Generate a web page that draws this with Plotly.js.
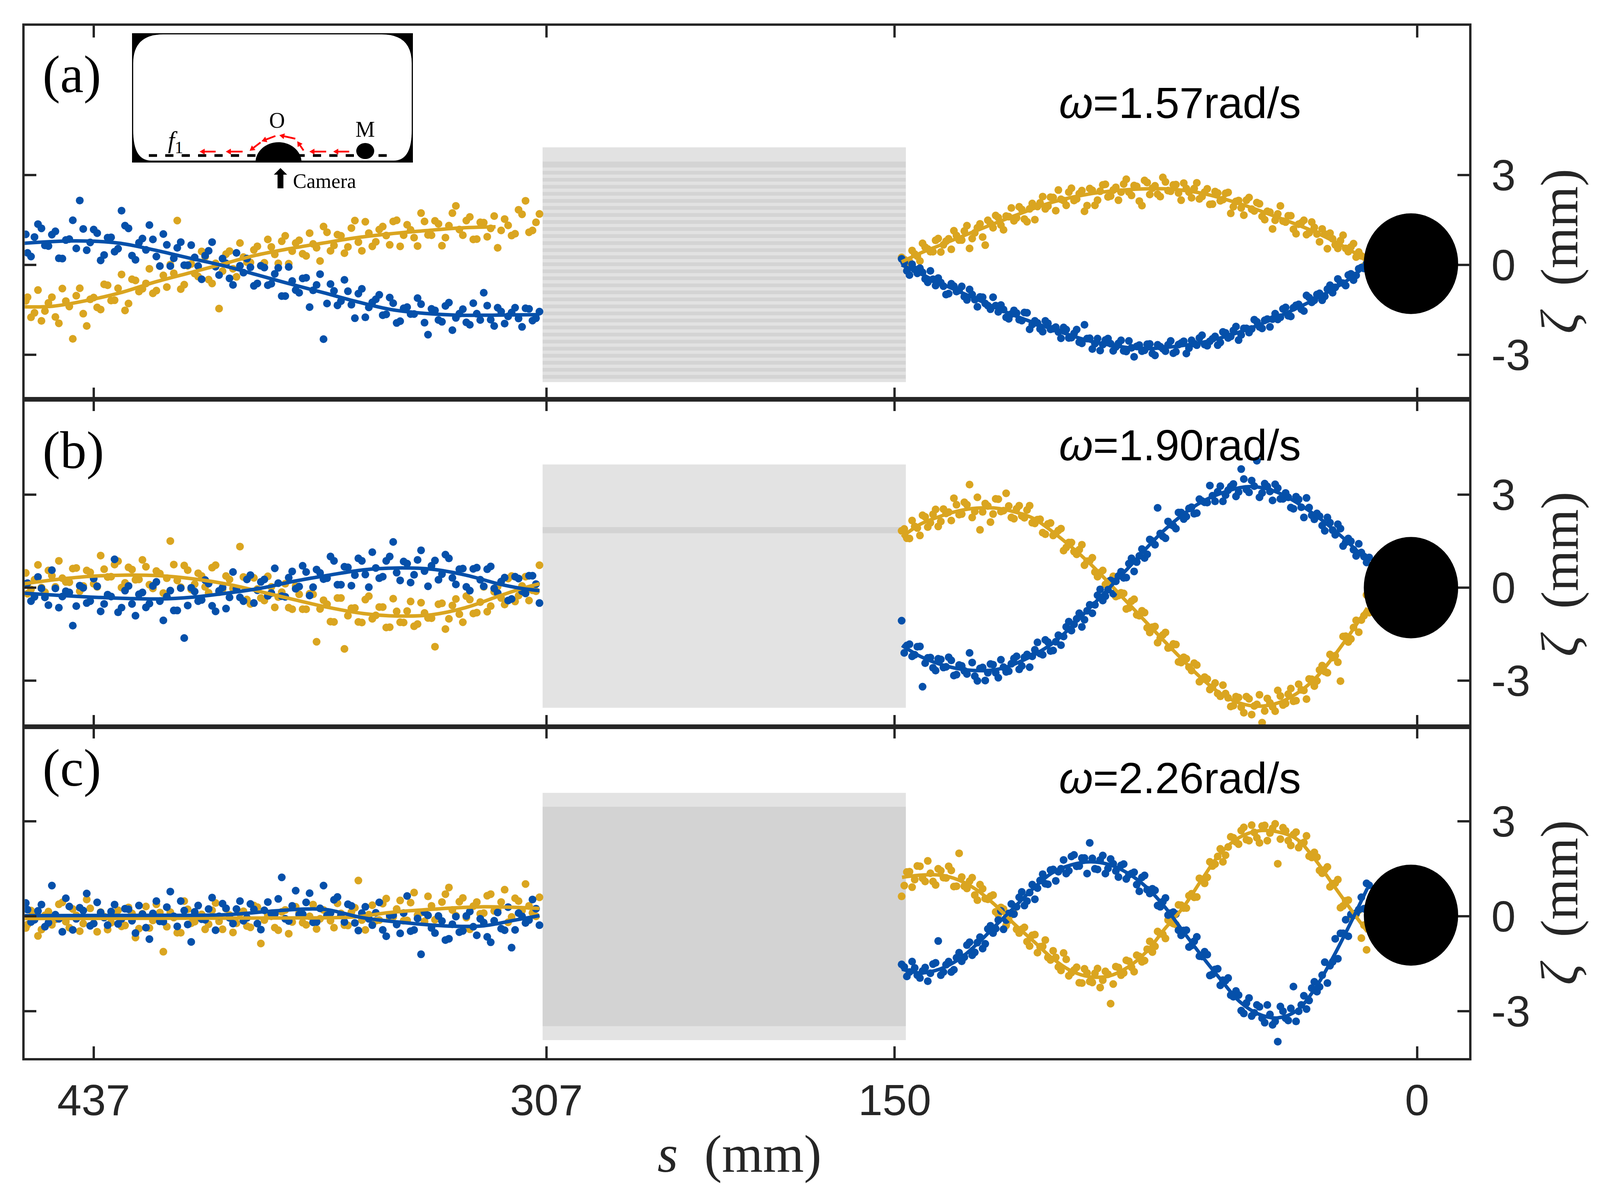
<!DOCTYPE html>
<html><head><meta charset="utf-8">
<script src="https://cdn.plot.ly/plotly-3.0.1.min.js"></script>
<style>html,body{margin:0;padding:0;background:#fff}#chart{width:4138px;height:3061px}</style>
</head><body><div id="chart"></div>
<script>
// ---------------- DATA ----------------
const X_TICK_S = [437, 307, 150, 0];
const X_TICK_TEXT = ['437', '307', '150', '0'];
const Y_TICKS = [-3, 0, 3];
const Y_TICK_TEXT = ['-3', '0', '3'];
const PANEL_LABELS = ['(a)', '(b)', '(c)'];
const OMEGA_TEXT = ['1.57', '1.90', '2.26'];

// sampling positions s (mm) of the measured points
const S_LEFT = [456.5,455,453,451,449,447,445,443,441,439,437,435,433,431,429,427,425,423,421,419,417,415,413,411,409,407,405,403,401,399,397,395,393,391,389,387,385,383,381,379,377,375,373,371,369,367,365,363,361,359,357,355,353,351,349,347,345,343,341,339,337,335,333,331,329,327,325,323,321,319,317,315,313,311,309];
const S_RIGHT = [148,146.5,145,143.5,142,140.5,139,137.5,136,134.5,133,131.5,130,128.5,127,125.5,124,122.5,121,119.5,118,116.5,115,113.5,112,110.5,109,107.5,106,104.5,103,101.5,100,98.5,97,95.5,94,92.5,91,89.5,88,86.5,85,83.5,82,80.5,79,77.5,76,74.5,73,71.5,70,68.5,67,65.5,64,62.5,61,59.5,58,56.5,55,53.5,52,50.5,49,47.5,46,44.5,43,41.5,40,38.5,37,35.5,34,32.5,31,29.5,28,26.5,25,23.5,22,20.5,19,17.5,16,14.5];
const S_LEFT2 = [456,454,452,450,448,446,444,442,440,438,436,434,432,430,428,426,424,422,420,418,416,414,412,410,408,406,404,402,400,398,396,394,392,390,388,386,384,382,380,378,376,374,372,370,368,366,364,362,360,358,356,354,352,350,348,346,344,342,340,338,336,334,332,330,328,326,324,322,320,318,316,314,312,310];
const S_RIGHT2 = [147.25,145.75,144.25,142.75,141.25,139.75,138.25,136.75,135.25,133.75,132.25,130.75,129.25,127.75,126.25,124.75,123.25,121.75,120.25,118.75,117.25,115.75,114.25,112.75,111.25,109.75,108.25,106.75,105.25,103.75,102.25,100.75,99.25,97.75,96.25,94.75,93.25,91.75,90.25,88.75,87.25,85.75,84.25,82.75,81.25,79.75,78.25,76.75,75.25,73.75,72.25,70.75,69.25,67.75,66.25,64.75,63.25,61.75,60.25,58.75,57.25,55.75,54.25,52.75,51.25,49.75,48.25,46.75,45.25,43.75,42.25,40.75,39.25,37.75,36.25,34.75,33.25,31.75,30.25,28.75,27.25,25.75,24.25,22.75,21.25,19.75,18.25,16.75,15.25,13.75];

// panel (a) omega = 1.57 rad/s
const A_L_BLUE = [1.02,0.28,1.36,0.65,1.01,0.22,0.83,1.49,2.15,0.49,1.18,0.15,0.91,0.44,1.81,1.22,0.17,0.88,1.33,0.28,1.03,-0.04,0.57,-0.01,0.66,-0.04,0.31,0.76,-0.34,0.05,-0.67,-0.03,0.21,-0.70,-0.03,-0.68,-0.30,-1.04,-0.07,-0.84,-0.45,-1.41,-0.67,-2.48,-0.64,-1.35,-0.50,-1.33,-0.96,-1.75,-1.25,-1.00,-1.65,-1.28,-1.88,-1.41,-1.64,-1.31,-2.33,-1.52,-1.90,-1.26,-1.77,-1.48,-2.00,-1.63,-0.93,-1.83,-1.43,-1.96,-1.59,-1.79,-1.45,-1.86,-1.56];
const A_L_GOLD = [-1.20,-1.75,-0.84,-1.54,-1.08,-1.95,-1.21,-2.47,-0.78,-2.04,-1.09,-1.49,-0.68,-1.18,-0.32,-1.29,-0.52,-0.80,-0.13,-0.86,-0.35,0.01,1.48,-0.66,0.03,-0.39,0.27,-0.62,-1.46,0.36,-0.13,0.73,0.09,0.50,-0.03,0.85,0.35,0.79,0.04,0.73,0.37,1.06,0.57,1.28,0.47,1.01,0.39,1.23,0.76,1.44,0.62,1.18,0.98,1.45,0.62,1.34,0.91,1.73,1.00,1.47,0.64,1.31,1.97,0.99,1.60,0.86,1.41,1.22,0.57,1.53,0.98,1.84,2.14,1.15,1.70];
const A_R_BLUE = [0.20,-0.20,0.02,-0.28,-0.25,-0.58,-0.48,-0.44,-0.71,-0.96,-0.71,-0.85,-1.06,-0.82,-1.16,-1.07,-1.29,-1.48,-1.36,-1.34,-1.75,-1.64,-1.61,-1.86,-1.60,-1.99,-1.94,-2.23,-1.95,-2.13,-2.24,-2.09,-2.44,-2.29,-2.58,-2.00,-2.45,-2.63,-2.86,-2.51,-2.63,-2.74,-2.52,-2.89,-2.77,-2.72,-2.88,-2.65,-2.96,-2.67,-2.80,-2.67,-2.95,-2.66,-2.55,-2.78,-2.63,-2.44,-2.66,-2.55,-2.39,-2.59,-2.27,-2.39,-2.06,-2.34,-2.12,-2.14,-1.90,-2.12,-1.81,-1.81,-1.82,-1.47,-1.70,-1.43,-1.32,-1.54,-1.09,-1.18,-0.95,-1.05,-0.68,-0.75,-0.59,-0.69,-0.30,-0.35,-0.09,0.05];
const A_R_GOLD = [0.25,0.08,0.48,0.29,0.72,0.53,0.44,0.88,0.67,0.87,1.14,0.83,1.13,0.55,1.07,1.37,0.66,1.38,1.65,1.33,1.63,1.90,1.57,1.85,1.44,2.05,1.95,2.28,1.96,2.25,2.50,2.15,2.43,2.15,2.38,1.79,2.55,1.99,2.46,2.69,2.30,2.59,2.43,2.86,2.32,2.62,1.98,2.75,2.56,2.36,2.92,2.48,2.67,2.40,2.73,2.43,2.55,2.20,2.43,2.02,2.45,2.14,2.39,1.72,2.12,1.90,2.16,1.86,2.08,1.62,1.79,1.20,1.70,1.46,1.64,1.19,1.36,1.49,1.07,1.25,0.77,1.03,1.06,0.67,0.81,0.55,0.60,0.26,0.30,0.05];
const A_L_BLUE2 = [0.40,0.93,1.22,0.63,1.12,0.21,0.86,0.55,1.20,0.75,1.06,0.33,0.92,0.54,1.31,0.31,0.74,0.50,0.85,-0.04,0.67,0.22,0.76,-0.01,0.25,-0.48,0.47,-0.06,0.21,-0.45,0.40,-0.26,-0.08,-0.62,-0.09,-0.63,-0.10,-1.04,-0.54,-0.93,-0.43,-0.85,-0.31,-1.29,-0.87,-1.21,-0.88,-1.78,-0.80,-1.42,-1.15,-1.68,-1.09,-1.94,-1.45,-1.64,-1.11,-1.93,-1.47,-1.84,-1.37,-2.18,-1.63,-1.92,-1.28,-1.84,-1.36,-2.04,-1.56,-1.72,-1.43,-2.07,-1.47,-1.78];
const A_L_GOLD2 = [-1.08,-1.60,-1.87,-1.27,-1.74,-0.79,-1.39,-1.03,-1.63,-1.15,-1.42,-0.65,-1.19,-0.78,-1.52,-0.48,-0.89,-0.62,-0.95,-0.04,-0.74,-0.28,-0.81,-0.03,-0.29,0.45,-0.49,0.05,-0.21,0.46,-0.40,0.26,0.08,0.62,0.07,0.60,0.05,0.97,0.46,0.82,0.30,0.70,0.13,1.09,0.65,0.97,0.60,1.48,0.47,1.06,0.77,1.28,0.67,1.49,0.99,1.17,0.63,1.45,0.99,1.37,0.91,1.73,1.18,1.48,0.85,1.42,0.94,1.63,1.15,1.32,1.04,1.69,1.09,1.42];
const A_R_BLUE2 = [0.08,-0.34,-0.15,-0.11,-0.47,-0.20,-0.69,-0.59,-0.99,-0.63,-0.89,-0.72,-1.17,-0.99,-1.40,-1.08,-1.36,-1.08,-1.57,-1.49,-1.80,-1.52,-1.83,-1.59,-2.15,-1.87,-2.14,-1.87,-2.15,-2.08,-2.45,-2.16,-2.43,-2.16,-2.62,-2.46,-2.81,-2.46,-2.66,-2.46,-2.87,-2.62,-2.87,-2.54,-3.07,-2.68,-2.85,-2.64,-3.02,-2.73,-2.88,-2.54,-2.90,-2.61,-2.96,-2.52,-2.68,-2.35,-2.70,-2.47,-2.68,-2.24,-2.44,-2.19,-2.51,-2.12,-2.26,-1.83,-2.07,-1.85,-2.07,-1.63,-1.75,-1.42,-1.72,-1.35,-1.48,-1.02,-1.25,-0.99,-1.18,-0.81,-0.93,-0.47,-0.61,-0.34,-0.51,-0.13,-0.12,0.11];
const A_R_GOLD2 = [0.18,0.11,0.36,0.13,0.59,0.44,0.82,0.43,0.79,0.52,0.98,0.83,1.31,0.88,1.24,0.93,1.49,1.24,1.58,1.17,1.61,1.47,1.94,1.53,1.87,1.51,2.07,1.87,2.26,1.81,2.19,1.99,2.56,2.20,2.48,1.98,2.49,2.16,2.67,2.27,2.50,2.16,2.70,2.43,2.65,2.13,2.82,2.35,2.64,2.28,2.77,2.46,2.68,2.16,2.55,2.24,2.74,2.28,2.54,2.03,2.40,2.18,2.42,1.94,2.15,1.66,2.25,1.80,2.04,1.51,1.76,1.49,1.97,1.43,1.64,1.04,1.40,1.01,1.43,1.03,1.20,0.54,0.87,0.55,0.99,0.44,0.71,0.43,-0.04,0.29];
const A_L_BLUE_FIT_S = [458.4,442,430,419.7,410,400,390.5,380.8,371,361.4,351.7,342,332.3,322.7,309];
const A_L_BLUE_FIT = [0.71,0.80,0.73,0.50,0.24,-0.02,-0.32,-0.63,-0.93,-1.23,-1.49,-1.62,-1.68,-1.68,-1.66];
const A_L_GOLD_FIT_S = [457,448.7,439,429.3,419.6,409.9,400.2,390.5,380.8,371.1,361.4,351.7,342,332.3,321.6];
const A_L_GOLD_FIT = [-1.40,-1.38,-1.19,-0.93,-0.58,-0.28,0.02,0.32,0.54,0.73,0.91,1.04,1.14,1.23,1.27];
const A_R_BLUE_FIT_S = [148,142.5,137.1,126.4,115.6,104.8,94,83.2,78,72.4,61.7,50.9,40.1,29.4,18.6,14.3];
const A_R_BLUE_FIT = [0,-0.30,-0.60,-1.15,-1.69,-2.14,-2.54,-2.76,-2.80,-2.76,-2.59,-2.24,-1.74,-1.15,-0.40,0.05];
const A_R_GOLD_FIT_S = [148,142.5,137.1,126.4,115.6,104.8,94,83.2,72.4,61.7,50.9,40.1,29.4,18.6,14.8];
const A_R_GOLD_FIT = [0.10,0.40,0.65,1.15,1.64,2.09,2.37,2.51,2.54,2.39,2.04,1.59,1.10,0.45,0.15];

// panel (b) omega = 1.90 rad/s
const B_L_BLUE = [0.12,-0.44,0.34,-0.32,0.56,-0.65,-0.12,-1.23,0.06,-0.50,0.29,-0.77,-0.23,0.91,-0.65,0.05,-0.91,-0.16,-0.52,0.18,-1.06,-0.10,-0.74,-1.63,-0.01,-0.44,0.24,-0.59,-0.11,-0.68,0.50,-0.32,0.26,-0.50,0.18,-0.27,0.62,-0.28,0.32,-0.04,0.70,-0.26,0.58,0.27,1.00,0.09,0.67,0.06,0.94,0.42,1.14,0.30,0.86,1.47,0.23,0.77,0.41,1.20,0.04,0.87,0.43,0.94,0.10,0.61,-0.10,0.64,0.04,0.68,-0.18,0.32,-0.37,0.29,-0.19,0.38,-0.50];
const B_L_GOLD = [0.47,-0.06,0.73,-0.15,0.38,0.86,0.18,0.61,-0.12,0.55,0.12,1.03,0.34,0.74,0.00,0.65,0.25,0.89,0.09,0.53,-0.18,1.50,0.23,0.71,-0.06,0.46,0.02,0.64,-0.15,0.37,-0.03,1.32,-0.39,0.31,-0.34,0.36,-0.64,-0.15,-0.65,0.05,-0.70,-0.20,-1.75,-0.41,-1.10,-0.34,-1.98,-0.67,-1.11,-0.39,-1.01,-0.63,-1.29,-0.36,-1.12,-0.76,-1.25,-0.49,-0.98,-1.91,-0.51,-1.01,-0.37,-1.12,-0.39,-0.81,0.02,-0.60,0.03,-0.55,0.37,-0.26,0.35,-0.09,0.72];
const B_R_BLUE = [-1.07,-1.87,-2.22,-1.91,-3.20,-2.27,-2.59,-2.30,-2.58,-2.25,-2.84,-2.50,-2.69,-2.11,-2.86,-2.61,-3.00,-2.47,-2.75,-2.33,-2.72,-2.46,-2.22,-2.53,-2.16,-2.22,-1.77,-2.17,-1.76,-2.03,-1.54,-1.58,-1.10,-1.19,-0.83,-1.04,-0.56,-0.56,-0.06,-0.28,0.23,0.20,0.51,0.32,0.94,0.82,1.24,1.07,1.50,2.57,1.65,2.13,1.99,2.42,2.21,2.55,2.38,2.85,2.75,3.29,2.78,3.27,2.98,3.26,2.94,3.82,3.16,3.45,4.09,3.05,3.26,2.81,3.21,2.86,2.91,2.54,2.84,2.26,2.58,2.20,2.30,1.83,2.09,1.70,1.90,1.46,1.49,1.02,1.13,0.81];
const B_R_GOLD = [1.83,1.59,2.16,1.92,2.33,1.95,2.36,1.97,2.53,2.43,2.88,2.35,2.75,3.32,2.45,1.86,2.71,2.11,2.86,2.45,3.04,2.26,2.54,2.31,2.50,2.09,2.19,1.77,2.05,1.68,1.84,1.19,1.45,1.16,1.22,0.72,0.86,0.50,0.48,0.10,0.20,-0.29,-0.17,-0.69,-0.44,-0.88,-0.75,-1.30,-1.28,-1.78,-1.53,-1.95,-1.82,-2.40,-2.25,-2.57,-2.44,-3.04,-2.89,-3.29,-3.08,-3.51,-3.42,-3.84,-3.52,-3.86,-3.52,-4.10,-3.77,-4.36,-3.58,-3.85,-3.32,-3.79,-3.44,-3.67,-3.12,-3.32,-2.95,-3.18,-2.66,-2.71,-2.16,-2.20,-3.02,-1.57,-1.66,-1.06,-1.05,-0.24];
const B_L_BLUE2 = [0.14,-0.30,-0.03,-0.57,-0.03,-0.29,-0.16,-0.60,-0.01,-0.44,0.04,-0.53,-0.29,-0.80,-0.10,-0.53,-0.22,-0.64,0.05,-0.44,-0.29,-0.74,-0.02,-0.58,-0.13,-0.40,0.13,-0.77,0.00,-0.32,-0.04,-0.44,0.40,-0.09,0.26,-0.18,0.14,-0.30,0.52,0.03,0.50,0.01,0.47,0.30,0.86,0.09,0.65,0.40,0.86,0.01,0.63,0.35,1.00,0.48,0.84,0.16,0.89,0.53,0.70,0.25,1.06,0.31,0.59,0.02,0.60,0.25,0.59,-0.03,0.19,-0.42,0.35,-0.12,0.38,0.11];
const B_L_GOLD2 = [-0.20,0.25,0.00,0.55,0.02,0.30,0.17,0.63,0.05,0.49,0.02,0.59,0.35,0.85,0.15,0.58,0.26,0.67,-0.03,0.45,0.30,0.74,0.01,0.56,0.11,0.37,-0.17,0.72,-0.06,0.26,-0.04,0.34,-0.53,-0.05,-0.42,0.02,-0.31,0.12,-0.70,-0.22,-0.70,-0.22,-0.69,-0.54,-1.11,-0.34,-0.91,-0.66,-1.13,-0.28,-0.90,-0.63,-1.28,-0.77,-1.13,-0.45,-1.18,-0.82,-0.99,-0.54,-1.34,-0.58,-0.86,-0.28,-0.84,-0.47,-0.78,-0.14,-0.34,0.29,-0.45,0.05,-0.42,-0.12];
const B_R_BLUE2 = [-2.11,-1.83,-2.17,-1.90,-2.44,-2.26,-2.68,-2.32,-2.56,-2.35,-2.81,-2.53,-2.79,-2.42,-3.01,-2.58,-2.75,-2.49,-2.91,-2.57,-2.70,-2.29,-2.64,-2.25,-2.57,-2.01,-2.13,-1.69,-2.05,-1.75,-1.86,-1.27,-1.39,-1.01,-1.27,-0.75,-0.83,-0.25,-0.42,-0.07,-0.20,0.37,0.31,0.77,0.52,1.02,0.95,1.55,1.38,1.74,1.59,2.03,1.90,2.42,2.29,2.59,2.40,2.79,2.74,2.96,3.09,2.78,3.14,3.34,3.08,3.50,3.07,3.27,2.91,3.35,3.10,3.33,2.86,3.05,2.58,2.93,2.59,2.89,2.33,2.39,2.00,2.26,1.85,2.04,1.34,1.58,1.22,1.41,1.00,0.97];
const B_R_GOLD2 = [1.89,1.58,1.97,1.68,2.28,2.09,2.52,2.13,2.39,2.16,2.67,2.37,2.67,2.26,2.91,2.44,2.63,2.37,2.85,2.48,2.63,2.22,2.64,2.25,2.64,2.07,2.20,1.72,2.08,1.74,1.90,1.29,1.45,1.07,1.38,0.85,0.96,0.35,0.55,0.19,0.36,-0.26,-0.19,-0.66,-0.38,-0.91,-0.81,-1.45,-1.26,-1.63,-1.45,-1.93,-1.84,-2.42,-2.30,-2.68,-2.50,-2.96,-2.95,-3.21,-3.42,-3.15,-3.56,-3.81,-3.55,-4.04,-3.59,-3.82,-3.46,-3.98,-3.72,-3.99,-3.50,-3.74,-3.26,-3.65,-3.30,-3.60,-2.96,-3.01,-2.52,-2.75,-2.26,-2.41,-1.58,-1.76,-1.29,-1.44,-0.91,-0.81];
const B_L_BLUE_FIT_S = [457.3,447.5,437.8,428,418.2,408.4,398.7,388.9,379.1,369.3,359.6,349.8,340,330.2,320.5,314.7,309];
const B_L_BLUE_FIT = [-0.18,-0.25,-0.31,-0.35,-0.37,-0.31,-0.18,-0.02,0.21,0.40,0.57,0.63,0.59,0.40,0.11,-0.02,-0.10];
const B_L_GOLD_FIT_S = [457,447.5,437.8,428,418.2,408.4,398.7,388.9,379.1,369.3,359.6,349.8,340,330.2,320.5,313.7,309];
const B_L_GOLD_FIT = [0.12,0.26,0.36,0.40,0.38,0.28,0.11,-0.14,-0.40,-0.65,-0.84,-0.92,-0.88,-0.65,-0.27,-0.02,0.12];
const B_R_BLUE_FIT_S = [147.9,142.5,137.1,131.7,126.4,121,115.6,104.8,94,83.2,72.4,61.7,50.9,46.5,40.1,29.4,18.6,13.8];
const B_R_BLUE_FIT = [-1.87,-2.23,-2.47,-2.62,-2.68,-2.65,-2.47,-1.81,-0.66,0.60,1.87,2.77,3.22,3.25,3.07,2.35,1.33,0.78];
const B_R_GOLD_FIT_S = [147.9,142.5,137.1,131.7,126.4,121,115.6,110.2,104.8,94,83.2,72.4,61.7,56.3,50.9,45.5,40.1,34.7,29.4,24,18.6,14.3];
const B_R_GOLD_FIT = [1.63,2.05,2.29,2.47,2.56,2.56,2.44,2.23,1.81,0.78,-0.48,-1.75,-2.95,-3.43,-3.73,-3.83,-3.73,-3.43,-2.95,-2.23,-1.39,-0.66];

// panel (c) omega = 2.26 rad/s
const C_L_BLUE = [0.42,-0.18,0.17,-0.33,0.97,-0.08,0.57,-0.43,0.27,0.72,-0.23,0.12,-0.28,0.37,-0.08,0.22,-0.53,0.07,-0.72,0.48,-0.17,0.78,-0.32,0.18,-0.81,0.34,-0.11,0.59,0.00,0.25,-0.23,0.48,-0.05,0.22,-0.42,0.45,0.07,1.23,-0.15,0.81,0.07,0.73,-0.18,0.97,0.10,0.61,-0.18,0.33,-0.45,0.30,-0.28,0.44,-0.63,0.04,-0.54,0.64,-0.43,-1.20,0.03,-0.53,-0.15,-0.71,-0.01,-0.46,0.15,-0.60,-0.20,-0.82,0.12,-0.44,-0.99,0.10,-0.21,0.53,-0.28];
const C_L_GOLD = [-0.37,0.18,-0.62,0.03,-0.27,0.38,-0.17,0.23,-0.47,0.53,-0.22,0.13,-0.42,0.03,-0.32,0.28,-0.67,0.08,-0.37,0.38,-1.12,0.13,-0.52,0.48,-0.22,-0.02,-0.41,0.19,-0.16,0.24,-0.51,0.09,-0.31,0.34,-0.86,0.04,-0.36,0.14,-0.55,0.30,-0.20,0.00,-0.40,0.20,-0.14,0.41,-0.28,0.13,1.13,-0.43,0.35,-0.12,0.56,-0.02,0.50,-0.13,0.75,0.12,0.63,-0.11,0.45,0.91,0.02,0.58,-0.41,0.45,0.10,0.70,0.19,0.84,-0.02,0.48,1.02,0.11,0.60];
const C_R_BLUE = [-1.52,-1.90,-1.43,-1.86,-1.73,-2.05,-1.51,-0.78,-1.76,-1.43,-1.69,-1.15,-1.29,-0.82,-1.14,-0.66,-0.87,-0.30,-0.39,0.17,-0.12,0.39,0.30,0.77,0.48,1.00,0.89,1.33,1.01,1.48,1.41,1.78,1.44,1.94,1.59,1.84,2.32,1.50,1.78,1.35,1.81,1.43,1.61,1.18,1.35,1.00,1.23,0.84,0.87,0.34,0.46,0.04,0.13,-0.44,-0.45,-0.97,-0.79,-1.26,-1.12,-1.87,-1.68,-2.18,-2.03,-2.49,-2.36,-2.98,-2.74,-3.15,-2.80,-3.22,-2.80,-3.43,-3.96,-3.00,-3.29,-2.22,-3.00,-2.51,-2.66,-2.07,-2.23,-1.45,-1.56,-0.71,-0.54,-0.11,0.06,0.10,0.60,1.04];
const C_R_GOLD = [0.63,1.40,0.92,1.59,1.20,1.75,1.10,1.50,1.22,1.58,0.94,1.99,0.95,1.11,0.67,1.00,0.56,0.63,0.14,0.28,-0.29,0.05,-0.41,-0.41,-0.80,-0.60,-1.15,-0.95,-1.30,-1.09,-1.60,-1.16,-1.88,-1.70,-2.10,-1.66,-2.06,-1.80,-2.25,-1.74,-2.76,-1.59,-1.86,-1.39,-1.61,-1.23,-1.44,-1.04,-1.13,-0.48,-0.57,-0.12,-0.23,0.36,0.26,0.65,0.60,1.20,1.04,1.72,1.65,2.13,1.93,2.51,2.35,2.71,2.42,2.88,2.48,2.85,2.39,2.78,1.66,2.80,2.39,2.58,2.17,2.33,1.90,2.02,1.45,1.47,0.93,1.05,0.27,0.49,0.01,0.06,-0.69,-1.06];
const C_L_BLUE2 = [0.21,-0.11,0.37,-0.20,0.05,-0.49,0.31,-0.08,0.18,-0.30,0.44,-0.04,0.15,-0.24,0.24,-0.14,0.34,-0.36,0.09,-0.16,0.29,0.00,0.48,-0.26,0.14,-0.09,0.23,-0.44,0.40,-0.05,0.23,-0.14,0.39,-0.23,0.19,0.09,0.55,-0.08,0.33,0.05,0.44,-0.19,0.25,0.03,0.52,0.03,0.38,-0.21,0.10,-0.08,0.11,-0.43,0.03,-0.26,0.10,-0.47,-0.07,0.13,-0.37,0.01,-0.75,-0.25,-0.50,0.01,-0.33,-0.08,-0.65,-0.14,-0.39,0.29,-0.43,0.00,-0.12,0.24];
const C_L_GOLD2 = [-0.26,0.06,-0.42,0.15,-0.10,0.44,-0.36,0.03,-0.23,0.25,-0.49,-0.01,-0.20,0.19,-0.29,0.09,-0.39,0.31,-0.13,0.12,-0.33,-0.04,-0.52,0.22,-0.17,0.06,-0.25,0.42,-0.41,0.04,-0.22,0.16,-0.35,0.29,-0.12,0.00,-0.44,0.20,-0.18,0.11,-0.27,0.37,-0.08,0.14,-0.36,0.09,-0.29,0.27,-0.12,0.05,-0.14,0.40,-0.05,0.23,-0.14,0.43,0.04,-0.16,0.33,-0.05,0.70,0.20,0.46,-0.04,0.32,0.08,0.65,0.17,0.45,-0.19,0.57,0.18,0.33,0.00];
const C_R_BLUE2 = [-1.60,-1.76,-1.63,-1.95,-1.62,-1.80,-1.47,-1.86,-1.53,-1.76,-1.31,-1.42,-0.91,-1.23,-0.83,-1.02,-0.40,-0.53,-0.12,-0.41,0.09,0.07,0.60,0.34,0.75,0.54,1.13,1.03,1.46,1.12,1.50,1.35,1.89,1.58,1.84,1.35,1.83,1.48,1.92,1.51,1.66,1.24,1.65,1.31,1.39,0.79,1.29,0.72,0.82,0.30,0.58,0.10,0.07,-0.60,-0.44,-0.92,-0.65,-1.27,-1.21,-1.83,-1.66,-2.02,-1.95,-2.54,-2.49,-3.07,-2.58,-3.05,-2.86,-3.36,-3.10,-3.32,-2.85,-3.22,-2.91,-3.32,-2.80,-2.93,-2.27,-2.38,-1.86,-2.11,-1.44,-1.34,-0.54,-0.63,0.03,0.21,0.24,0.98];
const C_R_GOLD2 = [0.97,1.41,1.16,1.58,1.10,1.36,0.99,1.44,1.21,1.45,0.95,1.24,0.88,1.22,0.51,0.87,0.54,0.67,0.05,0.23,-0.13,0.09,-0.53,-0.35,-0.94,-0.58,-0.96,-0.75,-1.38,-1.30,-1.71,-1.36,-1.78,-1.61,-2.11,-1.79,-2.09,-1.65,-2.02,-1.83,-2.14,-1.62,-1.79,-1.42,-1.75,-1.27,-1.40,-0.79,-0.95,-0.55,-0.70,-0.19,-0.26,0.35,0.26,0.71,0.61,1.15,1.23,1.59,1.89,1.72,2.19,2.48,2.28,2.81,2.39,2.65,2.32,2.87,2.63,2.92,2.44,2.70,2.24,2.66,2.30,2.54,1.86,1.87,1.36,1.56,1.03,1.16,0.33,0.51,0.04,0.19,-0.28,-0.34];
const C_L_BLUE_FIT_S = [457,420,399,385,376,370,360,348,335,325,316,309];
const C_L_BLUE_FIT = [0.02,0.03,0.05,0.17,0.23,0.21,-0.04,-0.20,-0.31,-0.30,-0.12,0.02];
const C_L_GOLD_FIT_S = [457,400,375,362,352,340,325,309];
const C_L_GOLD_FIT = [-0.07,-0.06,-0.05,-0.02,0.12,0.22,0.30,0.25];
const C_R_FIT_S = [147.9,142.5,137.1,131.7,126.4,121,115.6,110.2,104.8,99.4,94,88.6,83.2,77.8,72.4,67.1,61.7,56.3,50.9,45.5,40.1,34.7,29.4,24,18.6,14.3];
const C_R_BLUE_FIT = [-1.67,-1.79,-1.67,-1.37,-0.88,-0.29,0.29,0.88,1.37,1.62,1.72,1.64,1.37,0.93,0.29,-0.49,-1.27,-2.01,-2.70,-3.09,-3.21,-2.99,-2.30,-1.27,-0.10,0.88];
const C_R_GOLD_FIT = [1.23,1.30,1.30,1.15,0.83,0.34,-0.25,-0.78,-1.32,-1.72,-1.91,-1.89,-1.62,-1.13,-0.39,0.29,1.18,2.01,2.50,2.70,2.67,2.45,1.81,0.98,0.15,-0.49];

// ---------------- STYLE / LAYOUT ----------------
const BLUE = '#0550aa', GOLD = '#daa520', INK = '#262626';
// broken axis: the 307 -> 150 stretch is drawn compressed (gap region)
function toU(s) { return s > 200 ? s - 57 : s; }

const PANELS = [
  {b: [A_L_BLUE, A_R_BLUE, A_L_BLUE2, A_R_BLUE2], g: [A_L_GOLD, A_R_GOLD, A_L_GOLD2, A_R_GOLD2],
   fits: [[A_L_GOLD_FIT_S, A_L_GOLD_FIT, GOLD], [A_R_GOLD_FIT_S, A_R_GOLD_FIT, GOLD],
          [A_L_BLUE_FIT_S, A_L_BLUE_FIT, BLUE], [A_R_BLUE_FIT_S, A_R_BLUE_FIT, BLUE]]},
  {b: [B_L_BLUE, B_R_BLUE, B_L_BLUE2, B_R_BLUE2], g: [B_L_GOLD, B_R_GOLD, B_L_GOLD2, B_R_GOLD2],
   fits: [[B_L_GOLD_FIT_S, B_L_GOLD_FIT, GOLD], [B_R_GOLD_FIT_S, B_R_GOLD_FIT, GOLD],
          [B_L_BLUE_FIT_S, B_L_BLUE_FIT, BLUE], [B_R_BLUE_FIT_S, B_R_BLUE_FIT, BLUE]]},
  {b: [C_L_BLUE, C_R_BLUE, C_L_BLUE2, C_R_BLUE2], g: [C_L_GOLD, C_R_GOLD, C_L_GOLD2, C_R_GOLD2],
   fits: [[C_L_GOLD_FIT_S, C_L_GOLD_FIT, GOLD], [C_R_FIT_S, C_R_GOLD_FIT, GOLD],
          [C_L_BLUE_FIT_S, C_L_BLUE_FIT, BLUE], [C_R_FIT_S, C_R_BLUE_FIT, BLUE]]}
];
const S_ALL = [].concat(S_LEFT, S_RIGHT, S_LEFT2, S_RIGHT2);

const traces = [];
PANELS.forEach((p, i) => {
  const xa = 'x' + (i ? i + 1 : ''), ya = 'y' + (i ? i + 1 : '');
  const xs = S_ALL.map(toU);
  traces.push({type: 'scatter', mode: 'markers', x: xs, y: [].concat(...p.g), xaxis: xa, yaxis: ya,
    marker: {color: GOLD, size: 20, line: {width: 0}}, hoverinfo: 'skip'});
  traces.push({type: 'scatter', mode: 'markers', x: xs, y: [].concat(...p.b), xaxis: xa, yaxis: ya,
    marker: {color: BLUE, size: 20, line: {width: 0}}, hoverinfo: 'skip'});
  p.fits.forEach(f => {
    traces.push({type: 'scatter', mode: 'lines', x: f[0].map(toU), y: f[1], xaxis: xa, yaxis: ya,
      line: {color: f[2], width: 9, shape: 'spline', smoothing: 1}, hoverinfo: 'skip'});
  });
});

const XDOM = [0.0153, 0.909];
const YDOMS = [[0.6661, 0.9786], [0.3924, 0.6661], [0.1153, 0.3924]];
const YRANGES = [[-4.49, 7.99], [-4.49, 6.07], [-4.48, 5.99]];
const AX = {showline: true, linecolor: INK, linewidth: 6, mirror: 'ticks', ticks: 'inside',
  ticklen: 30, tickwidth: 6, tickcolor: INK, showgrid: false, zeroline: false,
  tickfont: {family: 'Liberation Sans, Arial, sans-serif', size: 112, color: INK}};

const layout = {
  width: 4138, height: 3061, margin: {l: 0, r: 0, t: 0, b: 0},
  paper_bgcolor: '#ffffff', plot_bgcolor: '#ffffff', showlegend: false,
  shapes: [], annotations: []
};
for (let i = 0; i < 3; i++) {
  const sfx = i ? String(i + 1) : '';
  layout['xaxis' + sfx] = Object.assign({}, AX, {
    domain: XDOM, range: [399.8, -15], anchor: 'y' + sfx,
    tickmode: 'array', tickvals: X_TICK_S.map(toU), ticktext: X_TICK_TEXT,
    showticklabels: i === 2, ticklabelstandoff: 6
  });
  layout['yaxis' + sfx] = Object.assign({}, AX, {
    domain: YDOMS[i], range: YRANGES[i], anchor: 'x' + sfx, side: 'right',
    tickmode: 'array', tickvals: Y_TICKS, ticktext: Y_TICK_TEXT, ticklabelstandoff: 28
  });
}

// shaded gap boxes (307 -> 150 region)
const GX0 = 251.1, GX1 = 146.8;
const gap = (i, y0, y1, c) => ({type: 'rect', xref: 'x' + (i ? i + 1 : ''), yref: 'y' + (i ? i + 1 : ''),
  x0: GX0, x1: GX1, y0: y0, y1: y1, fillcolor: c, line: {width: 0}, layer: 'below'});
layout.shapes.push(gap(0, -3.91, 3.92, '#d4d4d4'));
layout.shapes.push(gap(0, 3.45, 3.92, '#e2e2e2'));
for (let y = 3.25; y > -3.85; y -= 0.235) layout.shapes.push(gap(0, y - 0.11, y, '#e2e2e2'));
layout.shapes.push(gap(1, -3.88, 3.97, '#e3e3e3'));
layout.shapes.push(gap(1, 1.75, 1.95, '#d3d3d3'));
layout.shapes.push(gap(2, -3.91, 3.90, '#e3e3e3'));
layout.shapes.push(gap(2, -3.47, 3.46, '#d3d3d3'));

// black spheres at s = 0
const BALLS = [[-1.64, 1.72], [-1.64, 1.63], [-1.56, 1.63]];
BALLS.forEach((b, i) => layout.shapes.push({type: 'circle', xref: 'x' + (i ? i + 1 : ''), yref: 'y' + (i ? i + 1 : ''),
  x0: 15.3, x1: -11.8, y0: b[0], y1: b[1], fillcolor: '#000000', line: {width: 0}, layer: 'above'}));

// ---------------- INSET (paper coords from pixel positions) ----------------
const W = 4138, H = 3061;
const PX = x => x / W, PY = y => 1 - y / H;
layout.shapes.push({type: 'rect', xref: 'paper', yref: 'paper', x0: PX(338), x1: PX(1057), y0: PY(416), y1: PY(85),
  fillcolor: '#000', line: {width: 0}, layer: 'above'});
(function () {
  const x0 = PX(341), x1 = PX(1054), yb = PY(411), yt = PY(88);
  const rxT = PX(77), ryT = 74 / H, rxB = PX(46), ryB = 77 / H;
  const p = `M${x0 + rxT},${yt} L${x1 - rxT},${yt} Q${x1},${yt} ${x1},${yt - ryT} L${x1},${yb + ryB} Q${x1},${yb} ${x1 - rxB},${yb} ` +
            `L${x0 + rxB},${yb} Q${x0},${yb} ${x0},${yb + ryB} L${x0},${yt - ryT} Q${x0},${yt} ${x0 + rxT},${yt} Z`;
  layout.shapes.push({type: 'path', xref: 'paper', yref: 'paper', path: p, fillcolor: '#fff', line: {width: 0}, layer: 'above'});
})();
layout.shapes.push({type: 'line', xref: 'paper', yref: 'paper', x0: PX(381), x1: PX(999), y0: PY(398), y1: PY(398),
  line: {color: '#000', width: 7, dash: 'dash'}, layer: 'above'});
(function () {
  const xa = PX(654), xb = PX(772), xc = (xa + xb) / 2, yb = PY(416), yt = PY(364), k = 0.5523;
  const w = (xb - xa) / 2, h = yt - yb;
  const p = `M${xa},${yb} C${xa},${yb + k * h} ${xc - k * w},${yt} ${xc},${yt} C${xc + k * w},${yt} ${xb},${yb + k * h} ${xb},${yb} Z`;
  layout.shapes.push({type: 'path', xref: 'paper', yref: 'paper', path: p, fillcolor: '#000', line: {width: 0}, layer: 'above'});
})();
layout.shapes.push({type: 'circle', xref: 'paper', yref: 'paper', x0: PX(912), x1: PX(958), y0: PY(407), y1: PY(366),
  fillcolor: '#000', line: {width: 0}, layer: 'above'});
const polyPath = pts => 'M' + pts.map(q => PX(q[0]) + ',' + PY(q[1])).join(' L') + ' Z';
// camera arrow
layout.shapes.push({type: 'path', xref: 'paper', yref: 'paper', fillcolor: '#000', line: {width: 0}, layer: 'above',
  path: polyPath([[710.5, 482], [710.5, 447], [701, 447], [718, 430], [735, 447], [725.5, 447], [725.5, 482]])});
// red flow arrows: [headX, headY, tailOffsetX, tailOffsetY] in pixels
const RED_ARROWS = [[511, 388, 41, 0], [578, 388, 43, 0], [792, 388, 43, 0], [853, 388, 41, 0],
                    [761, 361.5, 16, 23.5], [715, 346, 41, 9], [669.5, 361.5, 35.5, -13.5], [639, 386, 28, -21.5]];
RED_ARROWS.forEach(a => {
  const hx = a[0], hy = a[1], tx = hx + a[2], ty = hy + a[3];
  const len = Math.hypot(a[2], a[3]), dx = -a[2] / len, dy = -a[3] / len;   // unit vector tail -> head
  const L = 13, hw = 7.5, bx = hx - dx * L, by = hy - dy * L;
  layout.shapes.push({type: 'line', xref: 'paper', yref: 'paper', x0: PX(tx), y0: PY(ty), x1: PX(bx), y1: PY(by),
    line: {color: '#ff0000', width: 4.5}, layer: 'above'});
  layout.shapes.push({type: 'path', xref: 'paper', yref: 'paper', fillcolor: '#ff0000', line: {width: 0}, layer: 'above',
    path: polyPath([[hx, hy], [bx - dy * hw, by + dx * hw], [bx + dy * hw, by - dx * hw]])});
});
const SERIF = 'Liberation Serif, Times New Roman, serif';
const SANS = 'Liberation Sans, Arial, sans-serif';
const txt = (x, y, t, size, fam, opts) => Object.assign({xref: 'paper', yref: 'paper', x: x, y: y, text: t,
  showarrow: false, font: {family: fam, size: size, color: '#000'}, xanchor: 'center', yanchor: 'middle'}, opts || {});
layout.annotations.push(txt(PX(709), PY(308), 'O', 56, SERIF));
layout.annotations.push(txt(PX(935), PY(331), 'M', 56, SERIF));
layout.annotations.push(txt(PX(428), PY(362), '<i>f</i><sub>1</sub>', 62, SERIF, {xanchor: 'left'}));
layout.annotations.push(txt(PX(748), PY(463), 'Camera', 52, SERIF, {xanchor: 'left'}));

// panel labels and omega labels
const LABEL_Y = [PY(190), PY(1152), PY(1965)];
const OMEGA_Y = [PY(264), PY(1139), PY(1991)];
for (let i = 0; i < 3; i++) {
  layout.annotations.push(txt(0.0259, LABEL_Y[i], PANEL_LABELS[i], 135, SERIF, {xanchor: 'left'}));
  layout.annotations.push(txt(0.730, OMEGA_Y[i], '<i>ω</i>=' + OMEGA_TEXT[i] + 'rad/s', 112, SANS));
}
// axis titles
layout.annotations.push(txt(0.4575, 0.0352, '<i>s</i>\u00a0\u00a0(mm)', 135, SERIF, {font: {family: SERIF, size: 135, color: INK}}));
const YT_Y = [0.790, 0.520, 0.2454];
YT_Y.forEach(y => layout.annotations.push(txt(0.965, y, '<i>ζ</i>\u00a0\u00a0(mm)', 135, SERIF,
  {textangle: -90, font: {family: SERIF, size: 135, color: INK}})));

Plotly.newPlot('chart', traces, layout, {displayModeBar: false, staticPlot: true});
</script>
</body></html>
